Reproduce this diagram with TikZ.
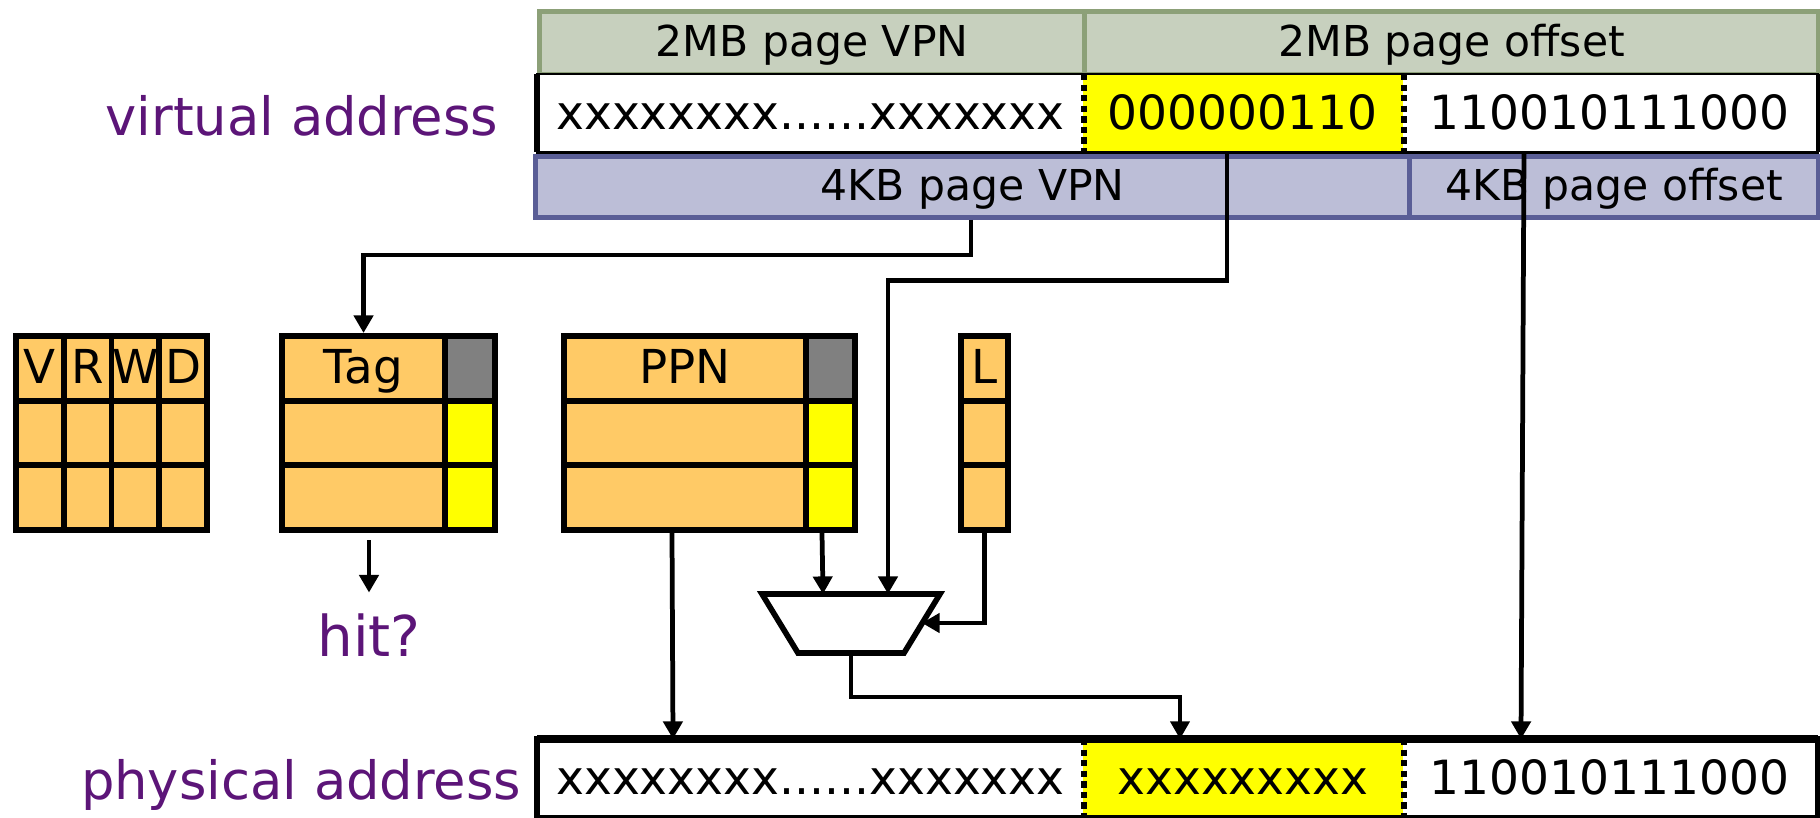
\documentclass[tikz,border=0pt]{standalone}
\usepackage{fontspec}
\setmainfont{DejaVu Sans}
\usetikzlibrary{arrows.meta,calc,shadows}

\definecolor{barGreen}{RGB}{199,208,190}
\definecolor{barGreenEdge}{RGB}{140,160,120}
\definecolor{barBlue}{RGB}{188,190,215}
\definecolor{barBlueEdge}{RGB}{90,94,150}
\definecolor{tblOrange}{RGB}{255,202,102}
\definecolor{tagGray}{RGB}{128,128,128}
\definecolor{bitYellow}{RGB}{255,255,0}
\definecolor{labelPurple}{RGB}{92,21,120}

\tikzset{
  bar/.style={draw, line width=1.4pt, inner sep=0pt, anchor=north west,
    font=\fontsize{12.1}{14}\selectfont, text height=0.76em, text depth=0pt,
    drop shadow={shadow xshift=0.6pt, shadow yshift=-0.8pt, opacity=0.25}},
  greenbar/.style={bar, fill=barGreen, draw=barGreenEdge, minimum height=0.63cm},
  bluebar/.style={bar, fill=barBlue, draw=barBlueEdge, minimum height=0.61cm},
  addr/.style={inner sep=0pt, anchor=north west, minimum height=0.77cm, fill=white,
    font=\fontsize{13.4}{16}\selectfont, text height=0.9em, text depth=0pt},
  cell/.style={draw, line width=1.7pt, fill=tblOrange, inner sep=0pt, anchor=north west,
    minimum height=0.6467cm, font=\fontsize{13.3}{16}\selectfont, text height=0.86em, text depth=0pt},
  graycell/.style={cell, fill=tagGray},
  yellowcell/.style={cell, fill=bitYellow},
  divider/.style={line width=1.7pt, dash pattern=on 1.8pt off 1.2pt},
  wire/.style={line width=1.35pt},
  arr/.style={wire, -{Triangle[length=5pt,width=5.4pt]}},
  purplelabel/.style={text=labelPurple, inner sep=0pt, font=\fontsize{15}{18}\selectfont}
}

\begin{document}
\begin{tikzpicture}[x=0.01cm,y=-0.01cm]
\useasboundingbox (0,0) rectangle (1820,818);

% 2MB page split of the virtual address
\node[greenbar, minimum width=5.45cm] (mbvpn) at (537,9) {2MB page VPN};
\node[greenbar, minimum width=7.34cm] (mboff) at (1082,9) {2MB page offset};

% virtual address bits
\node[addr, minimum width=5.45cm] (va1) at (537,74) {xxxxxxxx......xxxxxxx};
\node[addr, fill=bitYellow, minimum width=3.20cm] (va2) at (1082,74) {000000110};
\node[addr, minimum width=4.14cm] (va3) at (1402,74) {110010111000};
\draw[line width=0.8pt] (va1.north west) rectangle (va3.south east);
\draw[line width=1.9pt] (va1.north west) -- (va1.south west);
\draw[line width=1.2pt] (va3.north east) -- (va3.south east);
\draw[divider] (va1.north east) -- (va1.south east);
\draw[divider] (va2.north east) -- (va2.south east);
\node[purplelabel, anchor=base east] (vlabel) at (499,136) {virtual address};

% 4KB page split of the virtual address
\node[bluebar, minimum width=8.74cm] (kbvpn) at (533,154) {4KB page VPN};
\node[bluebar, minimum width=4.09cm] (kboff) at (1407,154) {4KB page offset};

% permission bits
\foreach \lbl [count=\c from 0] in {V,R,W,D} {
  \node[cell, minimum width=0.4775cm] (vrwd1\c) at ({13+47.75*\c},333) {\lbl};
  \node[cell, minimum width=0.4775cm] (vrwd2\c) at ({13+47.75*\c},397.67) {};
  \node[cell, minimum width=0.4775cm] (vrwd3\c) at ({13+47.75*\c},462.33) {};
}

% tag array
\node[cell, minimum width=1.63cm] (tag1) at (279,333) {Tag};
\node[cell, minimum width=1.63cm] (tag2) at (279,397.67) {};
\node[cell, minimum width=1.63cm] (tag3) at (279,462.33) {};
\node[graycell, minimum width=0.50cm] (tagv1) at (442,333) {};
\node[yellowcell, minimum width=0.50cm] (tagv2) at (442,397.67) {};
\node[yellowcell, minimum width=0.50cm] (tagv3) at (442,462.33) {};

% PPN array
\node[cell, minimum width=2.42cm] (ppn1) at (561,333) {PPN};
\node[cell, minimum width=2.42cm] (ppn2) at (561,397.67) {};
\node[cell, minimum width=2.42cm] (ppn3) at (561,462.33) {};
\node[graycell, minimum width=0.49cm] (ppnv1) at (803,333) {};
\node[yellowcell, minimum width=0.49cm] (ppnv2) at (803,397.67) {};
\node[yellowcell, minimum width=0.49cm] (ppnv3) at (803,462.33) {};

% large-page bit
\node[cell, minimum width=0.47cm] (l1) at (958,333) {L};
\node[cell, minimum width=0.47cm] (l2) at (958,397.67) {};
\node[cell, minimum width=0.47cm] (l3) at (958,462.33) {};

% hit output
\node[purplelabel, anchor=base, font=\fontsize{16}{19}\selectfont] (hit) at (369,656) {hit?};

% multiplexer
\coordinate (muxTL) at (762,594);
\coordinate (muxTR) at (940,594);
\coordinate (muxBR) at (904,653);
\coordinate (muxBL) at (798,653);
\coordinate (muxA) at (823,594);
\coordinate (muxB) at (888,594);
\coordinate (muxS) at (922,623);
\coordinate (muxO) at (851,653);
\draw[line width=1.6pt, fill=white, line join=miter] (muxTL) -- (muxTR) -- (muxBR) -- (muxBL) -- cycle;

% physical address bits
\node[addr, minimum width=5.45cm] (pa1) at (537,739) {xxxxxxxx......xxxxxxx};
\node[addr, fill=bitYellow, minimum width=3.20cm] (pa2) at (1082,739) {xxxxxxxxx};
\node[addr, minimum width=4.14cm] (pa3) at (1402,739) {110010111000};
\draw[line width=1.6pt] (pa1.north west) rectangle (pa3.south east);
\draw[line width=2.4pt] (pa1.north west) -- (pa3.north east);
\draw[divider] (pa1.north east) -- (pa1.south east);
\draw[divider] (pa2.north east) -- (pa2.south east);
\node[purplelabel, anchor=base east] (plabel) at (522,799) {physical address};

% connectors
\draw[arr] (kbvpn.south -| 971,0) -- ++(0,35) -| (tag1.north);
\draw[arr] (va2.south -| 1227,0) -- ++(0,128) -| (muxB);
\draw[arr] (va3.south -| 1524,0) -- (pa3.north -| 1521,0);
\draw[arr] (ppn3.south -| 672,0) -- (pa1.north -| 673,0);
\draw[arr] (ppnv3.south -| 822,0) -- (muxA);
\draw[arr] (l3.south) |- (muxS);
\draw[arr, line width=1.05pt] (muxO) -- ++(0,44) -| (pa2.north -| 1180,0);
\draw[arr] (tag3.south -| hit.north) ++(0,7) -- ($(hit.north)+(0,-20)$);
\end{tikzpicture}
\end{document}
